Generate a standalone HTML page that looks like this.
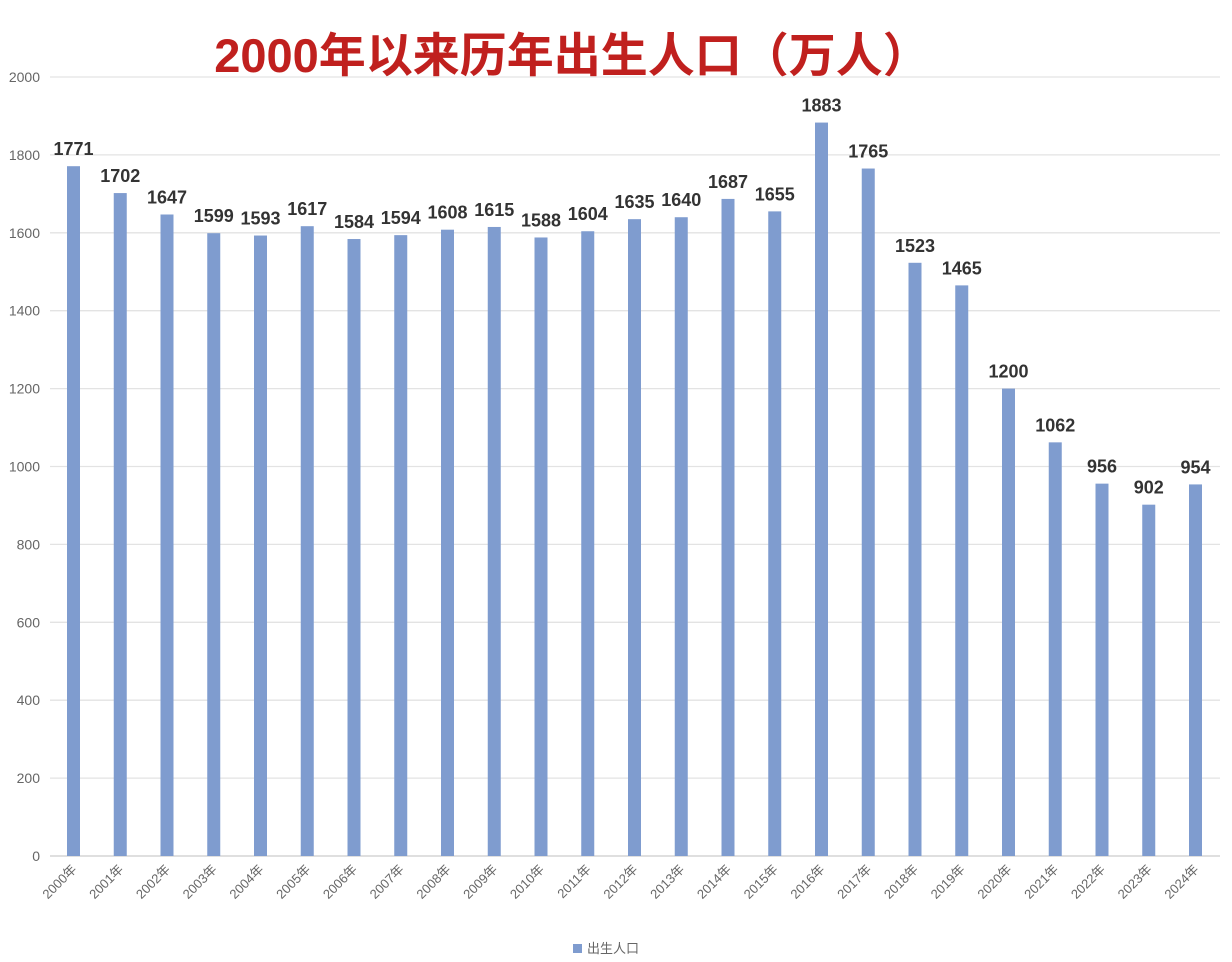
<!DOCTYPE html>
<html><head><meta charset="utf-8">
<style>
html,body{margin:0;padding:0;background:#fff;width:1232px;height:962px;overflow:hidden}
svg text{font-family:"Liberation Sans","Noto Sans CJK SC",sans-serif}
</style></head>
<body>
<svg id="c" width="1232" height="962" xmlns="http://www.w3.org/2000/svg">
<text x="572" y="72" text-anchor="middle" font-size="47" font-weight="bold" fill="#c0201e">2000年以来历年出生人口（万人）</text>
<g id="g"></g>
<rect x="573" y="944" width="9" height="9" fill="#7f9ccf"/>
<text x="587" y="953" font-size="13" fill="#666">出生人口</text>
</svg>
<script>
var v=[1771,1702,1647,1599,1593,1617,1584,1594,1608,1615,1588,1604,1635,1640,1687,1655,1883,1765,1523,1465,1200,1062,956,902,954];
var s='';var y0=856,k=0.3895;
for(var i=0;i<=10;i++){var y=y0-i*200*k;
s+='<line x1="50" x2="1220" y1="'+y+'" y2="'+y+'" stroke="'+(i==0?'#ccc':'#e3e3e3')+'" stroke-width="1.3"/>';
s+='<text x="40" y="'+(y+5)+'" text-anchor="end" font-size="14" fill="#666">'+(i*200)+'</text>';}
for(var j=0;j<v.length;j++){var cx=73.5+j*46.75,h=v[j]*k;
s+='<rect x="'+(cx-6.5)+'" y="'+(y0-h)+'" width="13" height="'+h+'" fill="#7f9ccf"/>';
s+='<text x="'+cx+'" y="'+(y0-h-11)+'" text-anchor="middle" font-size="18" font-weight="bold" fill="#333">'+v[j]+'</text>';
s+='<text transform="translate('+(cx+4)+',870) rotate(-45)" text-anchor="end" font-size="13" fill="#666">'+(2000+j)+'年</text>';}
document.getElementById('g').innerHTML=s;
</script>
</body></html>
